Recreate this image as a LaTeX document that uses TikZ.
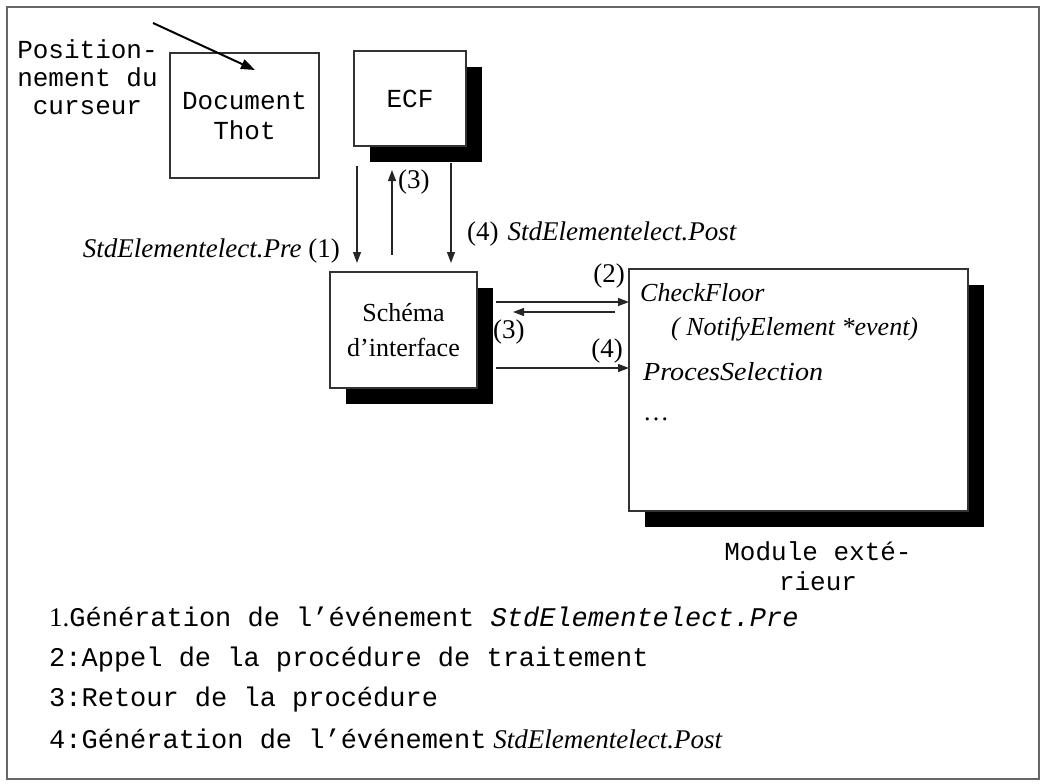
\documentclass[tikz,border=0pt]{standalone}
\usepackage{fontspec}
\setmainfont{Liberation Serif}
\newfontfamily\cour{Liberation Mono}
\usetikzlibrary{arrows.meta,shadows}

\begin{document}
\begin{tikzpicture}[x=1pt,y=-1pt,
  box/.style={draw=black!80, line width=1.2pt, fill=white, inner sep=0pt},
  shbox/.style={box, drop shadow={shadow xshift=16pt, shadow yshift=-16pt, fill=black, opacity=1}},
  mono/.style={font=\cour\fontsize{26}{30}\selectfont, inner sep=0pt},
  legend/.style={font=\cour\fontsize{27}{30}\selectfont, inner sep=0pt, anchor=base west},
  serif/.style={font=\fontsize{26}{35}\selectfont, inner sep=0pt},
  lab/.style={font=\fontsize{27}{30}\selectfont, inner sep=0pt},
  fn/.style={font=\fontsize{26}{30}\selectfont, inner sep=0pt, anchor=base west},
  arr/.style={draw=black!85, line width=1.2pt, -{Triangle[length=11pt,width=8pt]}},
]
\useasboundingbox (0,0) rectangle (1045,784);
\draw[black!60, line width=1.5pt] (7,7) rectangle (1039,779);

% boxes
\node[box, mono, minimum width=149pt, minimum height=125pt, align=center] (doc) at (244.5,115.5) {Document\\Thot};
\node[shbox, mono, minimum width=112pt, minimum height=95pt] (ecf) at (410,98.5) {ECF};
\node[shbox, serif, minimum width=147pt, minimum height=116pt, align=center] (sch) at (403.5,330) {Schéma\\d’interface};
\node[shbox, minimum width=339pt, minimum height=242pt] (mod) at (798.5,390) {};

% cursor positioning
\node[font=\cour\fontsize{26}{28}\selectfont, inner sep=0pt, align=center] (pos) at (87.5,77) {Position-\\nement du\\curseur};
\coordinate (cs) at (153,23);
\coordinate (ce) at (255,70);
\draw[line width=2pt, -{Triangle[length=14pt,width=10pt]}] (cs) -- (ce);

% vertical connectors between ECF and the interface schema
\coordinate (v1s) at (357,166); \coordinate (v1e) at (357,263);
\coordinate (v3s) at (392,255); \coordinate (v3e) at (392,170);
\coordinate (v4s) at (451,163); \coordinate (v4e) at (451,263);
\draw[arr] (v1s) -- (v1e);
\draw[arr] (v3s) -- (v3e);
\draw[arr] (v4s) -- (v4e);
\node[lab, anchor=base east] (l1) at (340,257) {\textit{StdElementelect.Pre} (1)};
\node[lab, anchor=base west] (l3a) at (398,188) {(3)};
\node[lab, anchor=base west] (l4a) at (467,240) {(4)\hspace{9pt}\textit{StdElementelect.Post}};

% horizontal connectors between the schema and the external module
\coordinate (h2s) at (496,302); \coordinate (h2e) at (629,302);
\coordinate (h3s) at (615,312); \coordinate (h3e) at (513,312);
\coordinate (h4s) at (496,368); \coordinate (h4e) at (629,368);
\draw[arr] (h2s) -- (h2e);
\draw[arr] (h3s) -- (h3e);
\draw[arr] (h4s) -- (h4e);
\node[lab, anchor=base east] (l2) at (625,282) {(2)};
\node[lab, anchor=base west] (l3b) at (493,338) {(3)};
\node[lab, anchor=base east] (l4b) at (623,357) {(4)};

% module contents
\node[fn] (m1) at (640,301) {\textit{CheckFloor}};
\node[fn] (m2) at (671,335) {\textit{( NotifyElement *event)}};
\node[fn] (m3) at (643,380) {\scalebox{1.08}[1]{\textit{ProcesSelection}}};
\node[fn] (m4) at (643,420) {\dots};
\node[mono, align=center] (mname) at (818,566) {Module exté-\\rieur};

% legend
\node[legend] (g1) at (49,626) {{\rmfamily 1.}Génération de l’événement {\itshape StdElementelect.Pre}};
\node[legend] (g2) at (49,666) {2:Appel de la procédure de traitement};
\node[legend] (g3) at (49,706) {3:Retour de la procédure};
\node[legend] (g4) at (49,748) {4:Génération de l’événement{\rmfamily\itshape\fontsize{27}{30}\selectfont\ StdElementelect.Post}};
\end{tikzpicture}
\end{document}
